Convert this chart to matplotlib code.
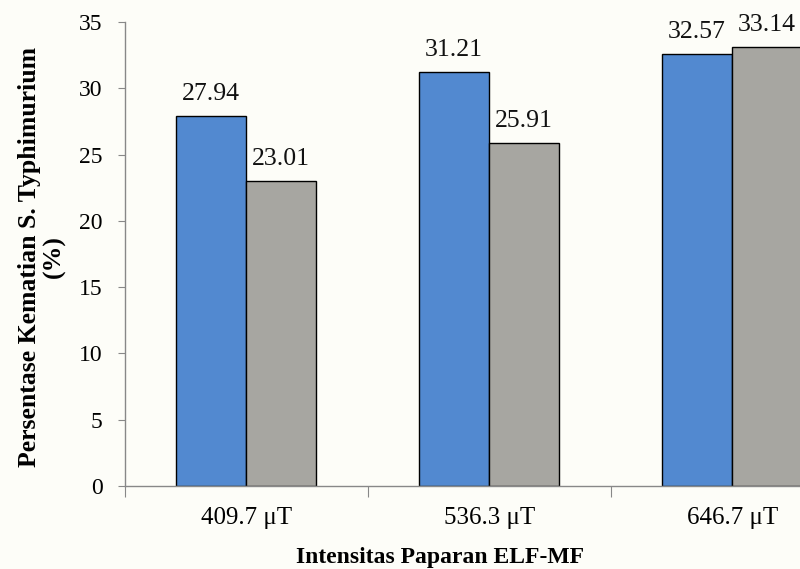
import numpy as np
import matplotlib
matplotlib.use("Agg")
import matplotlib.pyplot as plt

categories = ["409.7 \u03bcT", "536.3 \u03bcT", "646.7 \u03bcT"]
series_a = [27.94, 31.21, 32.57]
series_b = [23.01, 25.91, 33.14]

plt.rcParams["font.family"] = ["Liberation Serif", "DejaVu Serif"]

bg = "#fdfdf8"
fig = plt.figure(figsize=(8, 5.69), dpi=100, facecolor=bg)
ax = fig.add_axes([0.156, 0.146, 0.911, 0.815], facecolor=bg)

x = np.arange(len(categories))
w = 0.288
bars_a = ax.bar(x - w / 2, series_a, w, color="#5289d0", edgecolor="black", linewidth=1.0)
bars_b = ax.bar(x + w / 2, series_b, w, color="#a7a6a1", edgecolor="black", linewidth=1.0)

for bars, vals in [(bars_a, series_a), (bars_b, series_b)]:
    for b, v in zip(bars, vals):
        ax.annotate(f"{v:.2f}", (b.get_x() + b.get_width() / 2, v),
                    xytext=(0, 8), textcoords="offset points",
                    ha="center", va="bottom", fontsize=18.5, color="#111111")

ax.set_xlim(-0.5, 2.5)
ax.set_ylim(0, 35)
ax.set_yticks(np.arange(0, 36, 5))
ax.tick_params(axis="y", labelsize=17, length=5, color="#888888", pad=11)

# boundary ticks (no labels) + category labels on minor ticks
ax.set_xticks([-0.5, 0.5, 1.5])
ax.set_xticklabels([])
ax.set_xticks(x, minor=True)
ax.set_xticklabels(categories, minor=True)
ax.tick_params(axis="x", which="major", length=8, color="#888888")
ax.tick_params(axis="x", which="minor", length=0, labelsize=18, pad=15)

for s in ["top", "right"]:
    ax.spines[s].set_visible(False)
for s in ["left", "bottom"]:
    ax.spines[s].set_color("#888888")
    ax.spines[s].set_linewidth(1.0)

ax.set_ylabel("Persentase Kematian S. Typhimurium\n(%)", fontsize=18.5,
              fontweight="bold", linespacing=1.05)
ax.yaxis.set_label_coords(-0.114, 0.494)
ax.yaxis.label.set_va("center")

fig.text(440 / 800, 1 - 557 / 569, "Intensitas Paparan ELF-MF", fontsize=17,
         fontweight="bold", ha="center", va="center")

fig.savefig("out.png", dpi=100, facecolor=bg)
